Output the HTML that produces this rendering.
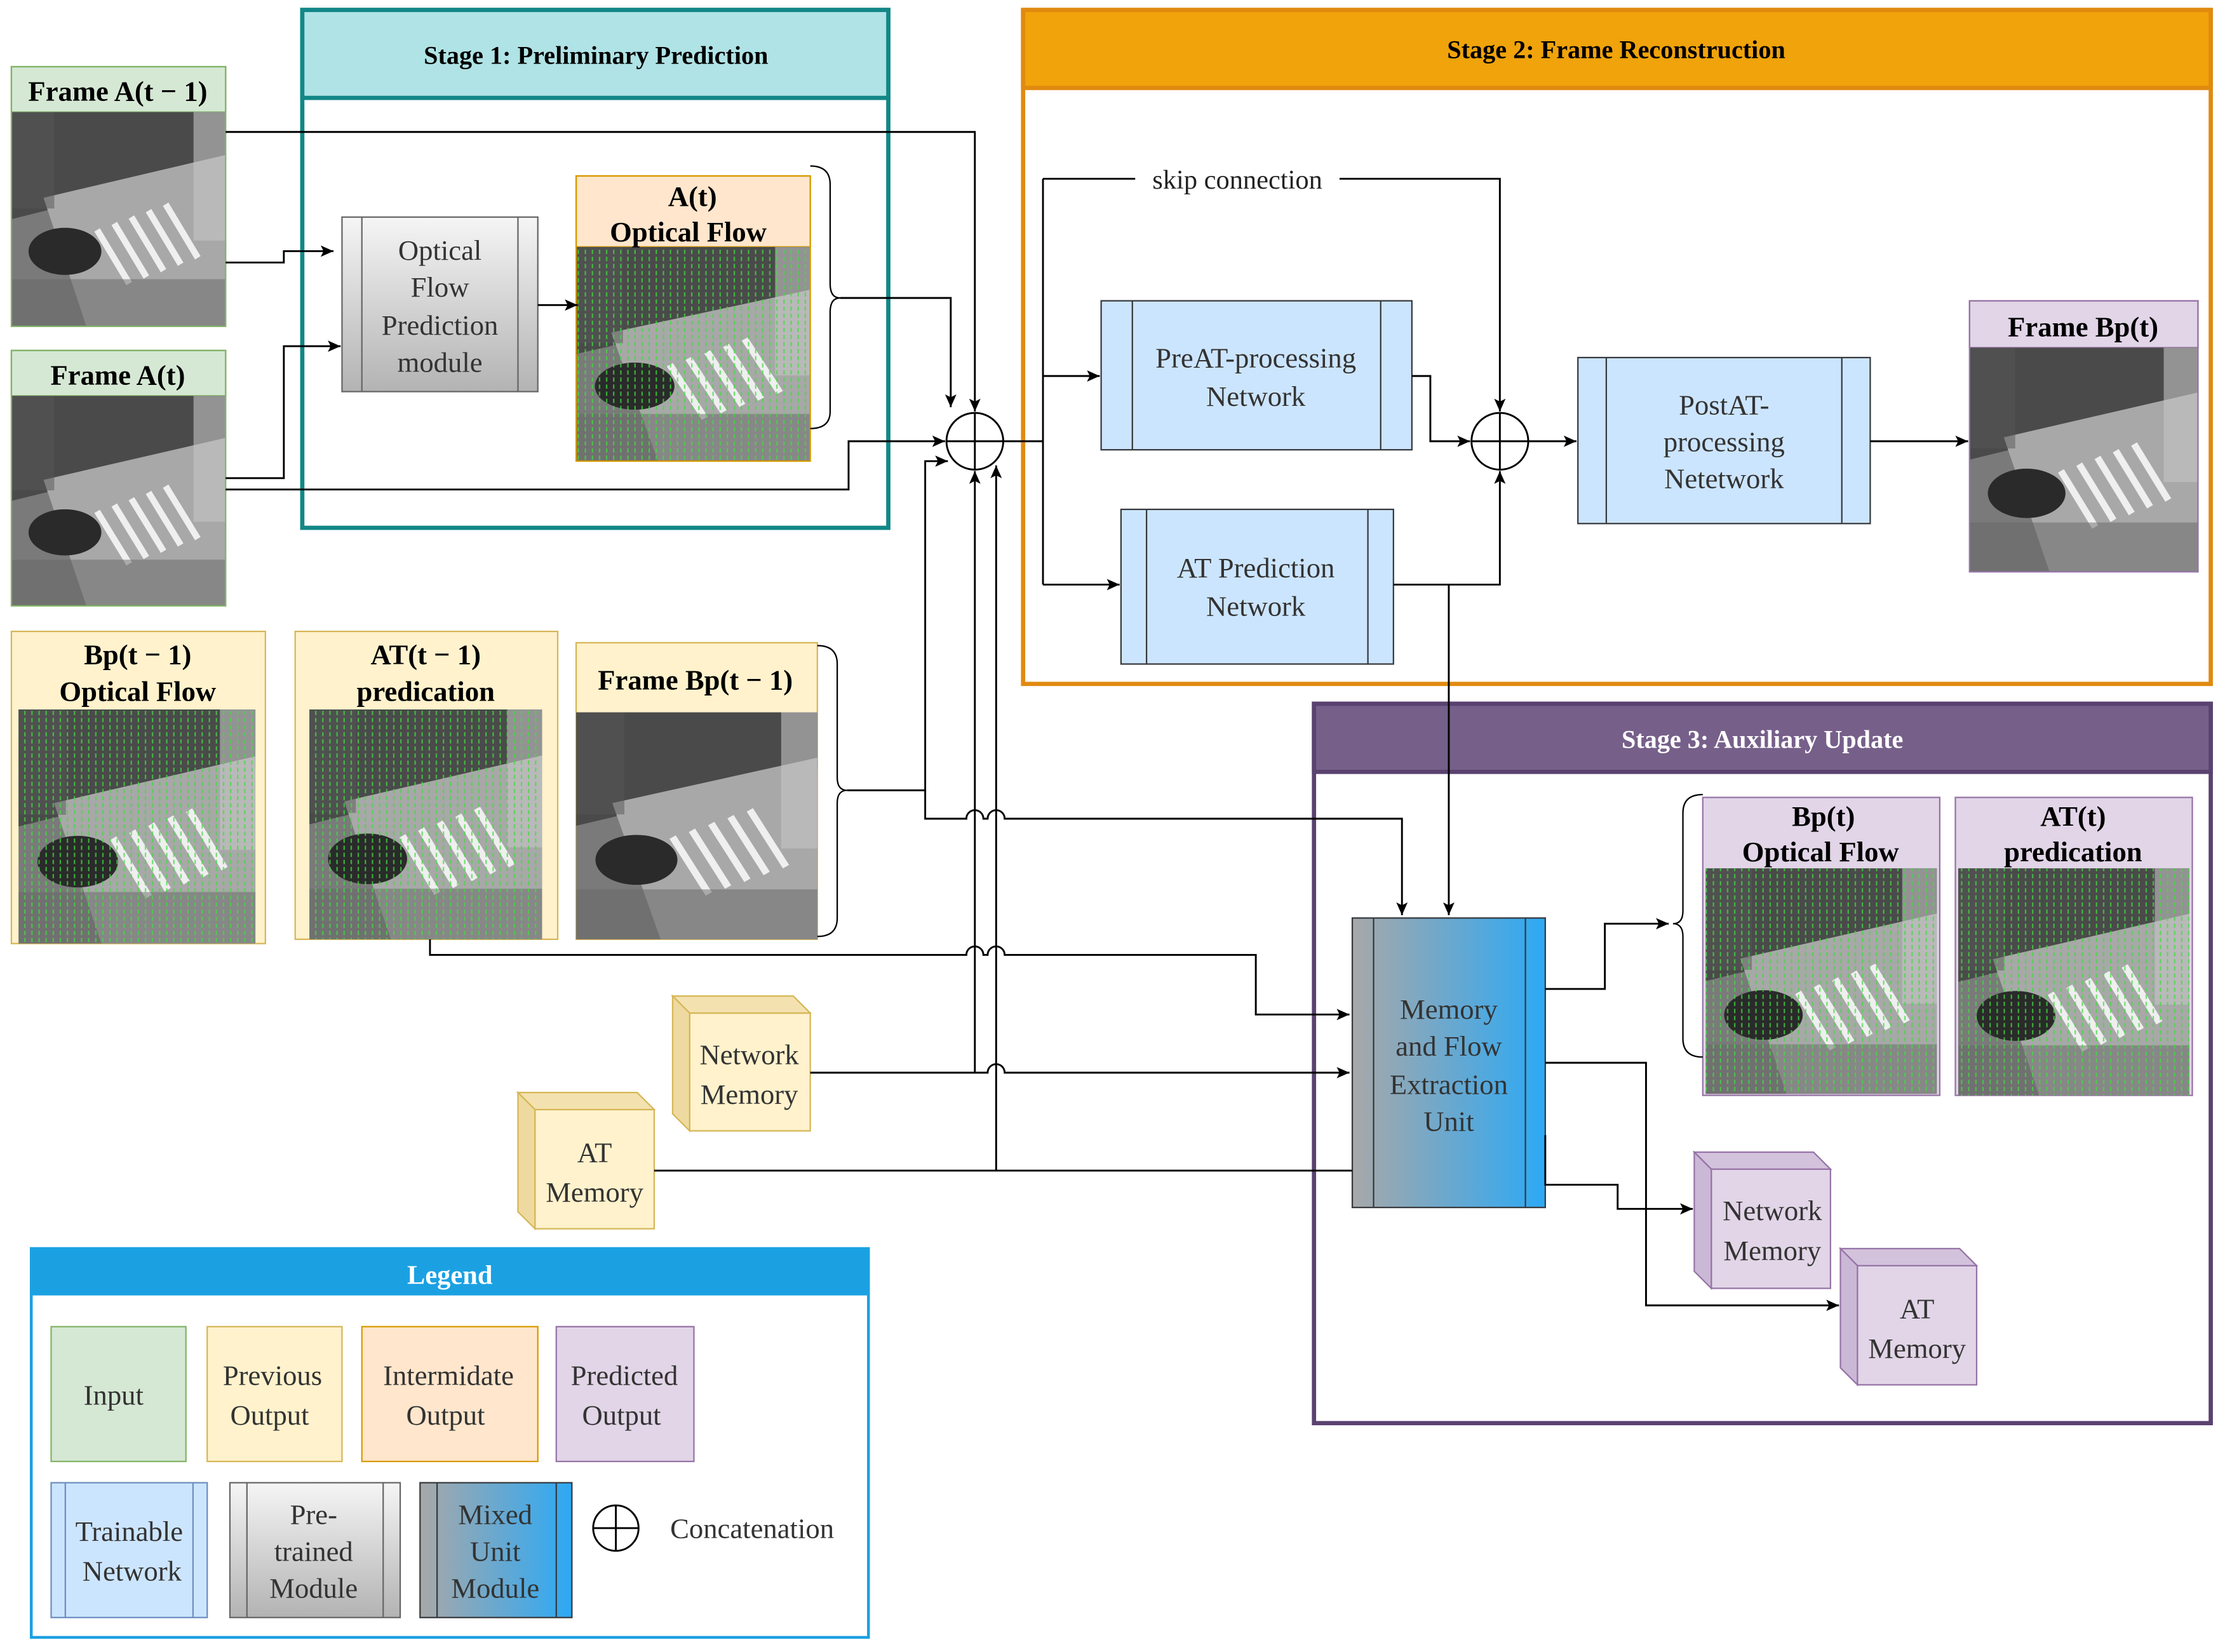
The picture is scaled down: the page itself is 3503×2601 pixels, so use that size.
<!DOCTYPE html>
<html><head><meta charset="utf-8"><style>html,body{margin:0;padding:0;background:#fff}svg{display:block}</style></head>
<body>
<svg width="3503" height="2601" viewBox="0 0 1568 1164.3" xmlns="http://www.w3.org/2000/svg" font-family="Liberation Serif, serif">
<defs>
<symbol id="street" viewBox="0 0 100 100" preserveAspectRatio="none">
<rect width="100" height="100" fill="#7a7a7a"/>
<polygon points="0,0 100,0 100,25 0,50" fill="#4a4a4a"/>
<polygon points="15,40 100,20 100,100 35,100" fill="#a8a8a8"/>
<g stroke="#efefef" stroke-width="3">
<line x1="40" y1="55" x2="55" y2="80"/><line x1="48" y1="52" x2="63" y2="77"/><line x1="56" y1="49" x2="71" y2="74"/><line x1="64" y1="46" x2="79" y2="71"/><line x1="72" y1="43" x2="87" y2="68"/>
</g>
<ellipse cx="25" cy="65" rx="17" ry="11" fill="#2a2a2a"/>
<rect x="0" y="78" width="100" height="22" fill="#666" opacity="0.5"/>
<rect x="85" y="0" width="15" height="60" fill="#c4c4c4" opacity="0.6"/>
<rect x="0" y="0" width="20" height="45" fill="#555" opacity="0.5"/>
</symbol>
<pattern id="flow" width="5" height="5" patternUnits="userSpaceOnUse"><rect x="2" y="1" width="1" height="3" fill="#3fdc3f" opacity="0.75"/></pattern>
<marker id="a" markerWidth="10" markerHeight="10" refX="9" refY="5" orient="auto" markerUnits="userSpaceOnUse"><path d="M0,1 L9,5 L0,9 L2,5z" fill="#000"/></marker>
<linearGradient id="gray" x1="0" y1="0" x2="0" y2="1"><stop offset="0" stop-color="#f5f5f5"/><stop offset="1" stop-color="#b3b3b3"/></linearGradient>
<linearGradient id="mix" x1="0" y1="0" x2="1" y2="0"><stop offset="0" stop-color="#a8a8a8"/><stop offset="1" stop-color="#2ca9f5"/></linearGradient>
</defs>

<rect x="213" y="7" width="413" height="365" fill="none" stroke="#128787" stroke-width="3"/>
<rect x="213" y="7" width="413" height="62" fill="#b0e3e6" stroke="#128787" stroke-width="3"/>
<text x="420" y="45" font-size="18" font-weight="bold" text-anchor="middle">Stage 1: Preliminary Prediction</text>

<rect x="721" y="7" width="837" height="475" fill="none" stroke="#e08a10" stroke-width="3"/>
<rect x="721" y="7" width="837" height="55" fill="#f0a30a" stroke="#e08a10" stroke-width="3"/>
<text x="1139" y="41" font-size="18" font-weight="bold" text-anchor="middle">Stage 2: Frame Reconstruction</text>

<rect x="926" y="496" width="632" height="507" fill="none" stroke="#5a4270" stroke-width="3"/>
<rect x="926" y="496" width="632" height="48" fill="#76608a" stroke="#5a4270" stroke-width="3"/>
<text x="1242" y="527" font-size="18" font-weight="bold" text-anchor="middle" fill="#fff">Stage 3: Auxiliary Update</text>

<rect x="8" y="47" width="151" height="32" fill="#d5e8d4" stroke="#82b366"/>
<text x="83" y="71" font-size="20" font-weight="bold" text-anchor="middle">Frame A(t − 1)</text>
<use href="#street" x="8" y="79" width="151" height="151"/>
<rect x="8" y="47" width="151" height="183" fill="none" stroke="#82b366"/>
<rect x="8" y="247" width="151" height="32" fill="#d5e8d4" stroke="#82b366"/>
<text x="83" y="271" font-size="20" font-weight="bold" text-anchor="middle">Frame A(t)</text>
<use href="#street" x="8" y="279" width="151" height="148"/>
<rect x="8" y="247" width="151" height="180" fill="none" stroke="#82b366"/>

<rect x="241" y="153" width="138" height="123" fill="url(#gray)" stroke="#666"/>
<line x1="255" y1="153" x2="255" y2="276" stroke="#666"/><line x1="365" y1="153" x2="365" y2="276" stroke="#666"/>
<g font-size="20" text-anchor="middle" fill="#333"><text x="310" y="183">Optical</text><text x="310" y="209">Flow</text><text x="310" y="236">Prediction</text><text x="310" y="262">module</text></g>

<rect x="406" y="124" width="165" height="50" fill="#ffe6cc" stroke="#d79b00"/>
<use href="#street" x="406" y="174" width="165" height="151"/>
<rect x="406" y="174" width="165" height="151" fill="url(#flow)"/>
<rect x="406" y="124" width="165" height="201" fill="none" stroke="#d79b00"/>
<g font-size="20" font-weight="bold" text-anchor="middle"><text x="488" y="145">A(t)</text><text x="485" y="170">Optical Flow</text></g>
<path d="M571,117 Q585,117 585,130 L585,200 Q585,210 592,210 Q585,210 585,220 L585,290 Q585,302 571,302" fill="none" stroke="#000"/>

<circle cx="687" cy="311" r="20" fill="#fff" stroke="#000" stroke-width="1.3"/>
<line x1="667" y1="311" x2="707" y2="311" stroke="#000" stroke-width="1.3"/><line x1="687" y1="291" x2="687" y2="331" stroke="#000" stroke-width="1.3"/>
<circle cx="1057" cy="311" r="20" fill="#fff" stroke="#000" stroke-width="1.3"/>
<line x1="1037" y1="311" x2="1077" y2="311" stroke="#000" stroke-width="1.3"/><line x1="1057" y1="291" x2="1057" y2="331" stroke="#000" stroke-width="1.3"/>

<g fill="#cce5ff" stroke="#36393d" stroke-width="1">
<rect x="776" y="212" width="219" height="105"/><rect x="790" y="359" width="192" height="109"/><rect x="1112" y="252" width="206" height="117"/>
</g>
<g stroke="#36393d"><line x1="798" y1="212" x2="798" y2="317"/><line x1="973" y1="212" x2="973" y2="317"/>
<line x1="808" y1="359" x2="808" y2="468"/><line x1="964" y1="359" x2="964" y2="468"/>
<line x1="1132" y1="252" x2="1132" y2="369"/><line x1="1298" y1="252" x2="1298" y2="369"/></g>
<g font-size="20" text-anchor="middle" fill="#333">
<text x="885" y="259">PreAT-processing</text><text x="885" y="286">Network</text>
<text x="885" y="407">AT Prediction</text><text x="885" y="434">Network</text>
<text x="1215" y="292">PostAT-</text><text x="1215" y="318">processing</text><text x="1215" y="344">Netetwork</text>
</g>

<rect x="1388" y="212" width="161" height="33" fill="#e1d5e7" stroke="#9673a6"/>
<text x="1468" y="237" font-size="20" font-weight="bold" text-anchor="middle">Frame Bp(t)</text>
<use href="#street" x="1388" y="245" width="161" height="158"/>
<rect x="1388" y="212" width="161" height="191" fill="none" stroke="#9673a6"/>

<rect x="8" y="445" width="179" height="220" fill="#fff2cc" stroke="#d6b656"/>
<use href="#street" x="13" y="500" width="167" height="165"/>
<rect x="13" y="500" width="167" height="165" fill="url(#flow)"/>
<g font-size="20" font-weight="bold" text-anchor="middle"><text x="97" y="468">Bp(t − 1)</text><text x="97" y="494">Optical Flow</text></g>

<rect x="208" y="445" width="185" height="217" fill="#fff2cc" stroke="#d6b656"/>
<use href="#street" x="218" y="500" width="164" height="162"/>
<rect x="218" y="500" width="164" height="162" fill="url(#flow)"/>
<g font-size="20" font-weight="bold" text-anchor="middle"><text x="300" y="468">AT(t − 1)</text><text x="300" y="494">predication</text></g>

<rect x="406" y="453" width="170" height="209" fill="#fff2cc" stroke="#d6b656"/>
<use href="#street" x="406" y="502" width="170" height="160"/>
<text x="490" y="486" font-size="20" font-weight="bold" text-anchor="middle">Frame Bp(t − 1)</text>
<path d="M576,455 Q590,455 590,468 L590,548 Q590,557 597,557 Q590,557 590,566 L590,647 Q590,660 576,660" fill="none" stroke="#000"/>

<g stroke="#d6b656">
<rect x="486" y="714" width="85" height="83" fill="#fff2cc"/><polygon points="474,702 559,702 571,714 486,714" fill="#f3e2b0"/><polygon points="474,702 486,714 486,797 474,785" fill="#eedaa0"/>
<rect x="377" y="782" width="84" height="84" fill="#fff2cc"/><polygon points="365,770 449,770 461,782 377,782" fill="#f3e2b0"/><polygon points="365,770 377,782 377,866 365,854" fill="#eedaa0"/>
</g>
<g stroke="#9673a6">
<rect x="1206" y="824" width="84" height="84" fill="#e1d5e7"/><polygon points="1194,812 1278,812 1290,824 1206,824" fill="#d3c2dc"/><polygon points="1194,812 1206,824 1206,908 1194,896" fill="#cbb7d6"/>
<rect x="1309" y="892" width="84" height="84" fill="#e1d5e7"/><polygon points="1297,880 1381,880 1393,892 1309,892" fill="#d3c2dc"/><polygon points="1297,880 1309,892 1309,976 1297,964" fill="#cbb7d6"/>
</g>
<g font-size="20" text-anchor="middle" fill="#333">
<text x="528" y="750">Network</text><text x="528" y="778">Memory</text>
<text x="419" y="819">AT</text><text x="419" y="847">Memory</text>
<text x="1249" y="860">Network</text><text x="1249" y="888">Memory</text>
<text x="1351" y="929">AT</text><text x="1351" y="957">Memory</text>
</g>

<rect x="953" y="647" width="136" height="204" fill="url(#mix)" stroke="#36393d"/>
<line x1="968" y1="647" x2="968" y2="851" stroke="#36393d"/><line x1="1075" y1="647" x2="1075" y2="851" stroke="#36393d"/>
<g font-size="20" text-anchor="middle" fill="#333"><text x="1021" y="718">Memory</text><text x="1021" y="744">and Flow</text><text x="1021" y="771">Extraction</text><text x="1021" y="797">Unit</text></g>

<rect x="1200" y="562" width="167" height="210" fill="#e1d5e7" stroke="#9673a6"/>
<use href="#street" x="1202" y="612" width="163" height="159"/>
<rect x="1202" y="612" width="163" height="159" fill="url(#flow)"/>
<g font-size="20" font-weight="bold" text-anchor="middle"><text x="1285" y="582">Bp(t)</text><text x="1283" y="607">Optical Flow</text></g>
<rect x="1378" y="562" width="167" height="210" fill="#e1d5e7" stroke="#9673a6"/>
<use href="#street" x="1380" y="612" width="163" height="160"/>
<rect x="1380" y="612" width="163" height="160" fill="url(#flow)"/>
<g font-size="20" font-weight="bold" text-anchor="middle"><text x="1461" y="582">AT(t)</text><text x="1461" y="607">predication</text></g>
<path d="M1200,560 Q1186,560 1186,573 L1186,642 Q1186,651 1179,651 Q1186,651 1186,660 L1186,732 Q1186,745 1200,745" fill="none" stroke="#000"/>

<g fill="none" stroke="#000" stroke-width="1.3">
<path d="M159,93 L687,93 L687,290" marker-end="url(#a)"/>
<path d="M159,185 L200,185 L200,177 L235,177" marker-end="url(#a)"/>
<path d="M159,337 L200,337 L200,244 L240,244" marker-end="url(#a)"/>
<path d="M159,345 L598,345 L598,311 L666,311" marker-end="url(#a)"/>
<path d="M379,215 L407,215" marker-end="url(#a)"/>
<path d="M592,210 L670,210 L670,287" marker-end="url(#a)"/>
<path d="M597,557 L652,557 L652,325 L668,325" marker-end="url(#a)"/>
<path d="M652,557 L652,577 L681,577 A6,6 0 0 1 693,577 L696,577 A6,6 0 0 1 708,577 L988,577 L988,645" marker-end="url(#a)"/>
<path d="M303,662 L303,673 L681,673 A6,6 0 0 1 693,673 L696,673 A6,6 0 0 1 708,673 L885,673 L885,715 L951,715" marker-end="url(#a)"/>
<path d="M571,756 L687,756 L687,332" marker-end="url(#a)"/>
<path d="M687,756 L696,756 A6,6 0 0 1 708,756 L951,756" marker-end="url(#a)"/>
<path d="M461,825 L953,825"/>
<path d="M702,825 L702,328" marker-end="url(#a)"/>
<path d="M707,311 L735,311 M735,126 L800,126 M944,126 L1057,126 L1057,290" marker-end="url(#a)"/>
<path d="M735,126 L735,412"/>
<path d="M735,265 L775,265" marker-end="url(#a)"/>
<path d="M735,412 L789,412" marker-end="url(#a)"/>
<path d="M995,265 L1008,265 L1008,311 L1036,311" marker-end="url(#a)"/>
<path d="M982,412 L1057,412 L1057,332" marker-end="url(#a)"/>
<path d="M1021,412 L1021,645" marker-end="url(#a)"/>
<path d="M1077,311 L1111,311" marker-end="url(#a)"/>
<path d="M1318,311 L1387,311" marker-end="url(#a)"/>
<path d="M1089,697 L1131,697 L1131,651 L1176,651" marker-end="url(#a)"/>
<path d="M1089,749 L1160,749 L1160,920 L1296,920" marker-end="url(#a)"/>
<path d="M1089,800 L1089,835 L1140,835 L1140,852 L1193,852" marker-end="url(#a)"/>
</g>
<text x="872" y="133" font-size="19" text-anchor="middle" fill="#222">skip connection</text>

<rect x="22" y="880" width="590" height="274" fill="#fff" stroke="#1ba1e2" stroke-width="2"/>
<rect x="22" y="880" width="590" height="32" fill="#1ba1e2" stroke="#1ba1e2" stroke-width="2"/>
<text x="317" y="905" font-size="19" font-weight="bold" text-anchor="middle" fill="#fff">Legend</text>
<rect x="36" y="935" width="95" height="95" fill="#d5e8d4" stroke="#82b366"/>
<rect x="146" y="935" width="95" height="95" fill="#fff2cc" stroke="#d6b656"/>
<rect x="255" y="935" width="124" height="95" fill="#ffe6cc" stroke="#d79b00"/>
<rect x="392" y="935" width="97" height="95" fill="#e1d5e7" stroke="#9673a6"/>
<rect x="36" y="1045" width="110" height="95" fill="#cce5ff" stroke="#6c8ebf"/>
<line x1="46" y1="1045" x2="46" y2="1140" stroke="#6c8ebf"/><line x1="136" y1="1045" x2="136" y2="1140" stroke="#6c8ebf"/>
<rect x="162" y="1045" width="120" height="95" fill="url(#gray)" stroke="#666"/>
<line x1="174" y1="1045" x2="174" y2="1140" stroke="#666"/><line x1="270" y1="1045" x2="270" y2="1140" stroke="#666"/>
<rect x="296" y="1045" width="107" height="95" fill="url(#mix)" stroke="#36393d"/>
<line x1="308" y1="1045" x2="308" y2="1140" stroke="#36393d"/><line x1="392" y1="1045" x2="392" y2="1140" stroke="#36393d"/>
<circle cx="434" cy="1077" r="16" fill="#fff" stroke="#000" stroke-width="1.3"/>
<line x1="418" y1="1077" x2="450" y2="1077" stroke="#000" stroke-width="1.3"/><line x1="434" y1="1061" x2="434" y2="1093" stroke="#000" stroke-width="1.3"/>
<g font-size="20" text-anchor="middle" fill="#333">
<text x="80" y="990">Input</text>
<text x="192" y="976">Previous</text><text x="190" y="1004">Output</text>
<text x="316" y="976">Intermidate</text><text x="314" y="1004">Output</text>
<text x="440" y="976">Predicted</text><text x="438" y="1004">Output</text>
<text x="91" y="1086">Trainable</text><text x="93" y="1114">Network</text>
<text x="221" y="1074">Pre-</text><text x="221" y="1100">trained</text><text x="221" y="1126">Module</text>
<text x="349" y="1074">Mixed</text><text x="349" y="1100">Unit</text><text x="349" y="1126">Module</text>
<text x="530" y="1084">Concatenation</text>
</g>
</svg>
</body></html>
